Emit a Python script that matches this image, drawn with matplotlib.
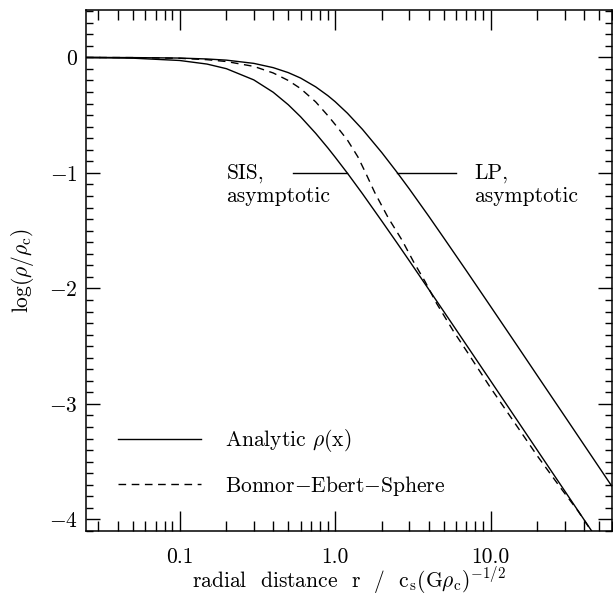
import numpy as np
import matplotlib
matplotlib.use("Agg")
import matplotlib.pyplot as plt
from matplotlib.ticker import FixedLocator, NullFormatter

# Fonts: Computer Modern look
plt.rcParams['font.family'] = 'serif'
plt.rcParams['font.serif'] = ['cmr10']
plt.rcParams['mathtext.fontset'] = 'cm'
plt.rcParams['axes.formatter.use_mathtext'] = True

FS = 15.5

# Radial distance x = r / c_s (G rho_c)^-1/2
x_vals = [0.025, 0.05, 0.1, 0.15, 0.2, 0.3, 0.4, 0.5, 0.6, 0.75, 0.9, 1.0,
          1.2, 1.5, 2.0, 2.5, 3.0, 4.0, 5.0, 7.0, 10.0, 15.0, 20.0, 30.0,
          45.0, 60.0]
# Analytic rho(x), SIS asymptotic (log rho/rho_c)
sis_logrho = [-0.002, -0.007, -0.027, -0.058, -0.098, -0.195, -0.302, -0.410,
              -0.514, -0.657, -0.785, -0.863, -1.002, -1.180, -1.418, -1.605,
              -1.760, -2.007, -2.199, -2.490, -2.799, -3.151, -3.401, -3.753,
              -4.105, -4.355]
# Analytic rho(x), LP asymptotic
lp_logrho = [-0.000, -0.002, -0.006, -0.014, -0.024, -0.052, -0.089, -0.132,
             -0.179, -0.255, -0.332, -0.383, -0.483, -0.623, -0.825, -0.994,
             -1.138, -1.374, -1.562, -1.848, -2.155, -2.505, -2.755, -3.106,
             -3.458, -3.708]
# Bonnor-Ebert sphere
be_x = [0.025, 0.05, 0.1, 0.15, 0.2, 0.3, 0.4, 0.5, 0.6, 0.75, 0.9, 1.0,
        1.2, 1.4, 1.56, 1.8, 2.2, 2.69, 3.2, 3.79, 4.5, 5.77, 7.0, 10.0,
        14.4, 20.0, 28.0, 36.7, 45.0]
be_logrho = [-0.001, -0.002, -0.008, -0.020, -0.036, -0.078, -0.135, -0.200,
             -0.270, -0.385, -0.505, -0.580, -0.715, -0.860, -0.990, -1.170,
             -1.390, -1.580, -1.770, -1.940, -2.130, -2.370, -2.540, -2.860,
             -3.170, -3.450, -3.720, -3.930, -4.110]

fig = plt.figure(figsize=(6.13, 5.95), dpi=100)
ax = fig.add_axes([86 / 613, 1 - 531 / 595, 525.5 / 613, 521 / 595])

ax.plot(x_vals, sis_logrho, color='black', lw=1.0, label=r'Analytic $\rho$(x)')
ax.plot(x_vals, lp_logrho, color='black', lw=1.0)
ax.plot(be_x, be_logrho, color='black', lw=1.0, dashes=(5.5, 4.0),
        label=r'Bonnor$-$Ebert$-$Sphere')

ax.set_xscale('log')
ax.set_xlim(0.025, 60)
ax.set_ylim(-4.1, 0.41)

# ticks
ax.xaxis.set_major_locator(FixedLocator([0.1, 1.0, 10.0]))
ax.set_xticklabels(['0.1', '1.0', '10.0'])
ax.xaxis.set_minor_locator(FixedLocator(
    [m * 10.0 ** e for e in (-2, -1, 0, 1) for m in range(2, 10)]))
ax.xaxis.set_minor_formatter(NullFormatter())
ax.set_yticks([-4, -3, -2, -1, 0])
ax.set_yticklabels(['$-4$', '$-3$', '$-2$', '$-1$', '$0$'])
ax.yaxis.set_minor_locator(FixedLocator(np.arange(-4.1, 0.45, 0.1)))

ax.tick_params(axis='both', which='both', direction='in', top=True, right=True,
               labelsize=FS, width=1.0, color='black')
ax.tick_params(axis='x', which='major', length=14.5, pad=12)
ax.tick_params(axis='x', which='minor', length=7.2)
ax.tick_params(axis='y', which='major', length=10, pad=6)
ax.tick_params(axis='y', which='minor', length=5)
for s in ax.spines.values():
    s.set_linewidth(1.1)

# asymptote labels
ax.plot([0.537, 1.19], [-1, -1], color='black', lw=1.0)
ax.plot([2.51, 6.0], [-1, -1], color='black', lw=1.0)
ax.text(0.2, -1.0, 'SIS,', fontsize=FS, va='center', ha='left')
ax.text(0.2, -1.2, 'asymptotic', fontsize=FS, va='center', ha='left')
ax.text(7.9, -1.0, 'LP,', fontsize=FS, va='center', ha='left')
ax.text(7.9, -1.2, 'asymptotic', fontsize=FS, va='center', ha='left')

ax.legend(loc='lower left', bbox_to_anchor=(0.06, 0.064), frameon=False,
          fontsize=FS, handlelength=3.9, handletextpad=1.1,
          labelspacing=0.9, borderpad=0, borderaxespad=0)

ax.set_xlabel(r'radial  distance  r  /  c$_\mathrm{s}$(G$\rho_\mathrm{c}$)$^{-1/2}$',
              fontsize=FS, labelpad=-1)
ax.set_ylabel(r'log($\rho/\rho_\mathrm{c}$)', fontsize=FS, labelpad=9)

plt.savefig('out.png', dpi=100)
